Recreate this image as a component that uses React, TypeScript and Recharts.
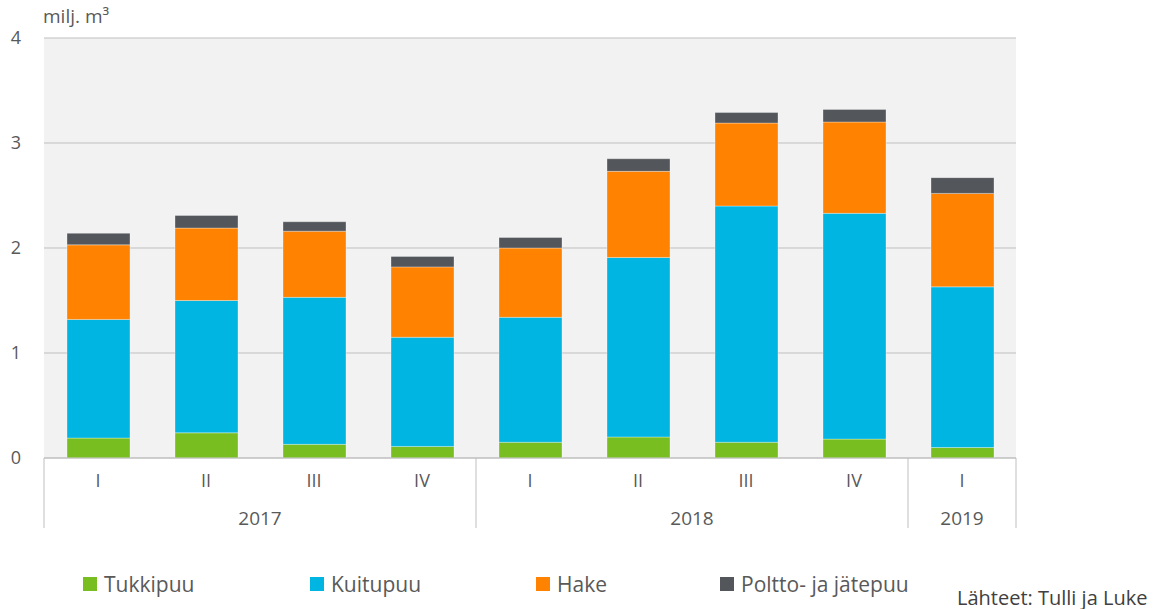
import { BarChart, Bar, XAxis, YAxis, CartesianGrid } from "recharts";

const quarters = ["I", "II", "III", "IV", "I", "II", "III", "IV", "I"];
const years = ["2017", "2017", "2017", "2017", "2018", "2018", "2018", "2018", "2019"];

const tukkipuu = [0.19, 0.24, 0.13, 0.11, 0.15, 0.2, 0.15, 0.18, 0.1];
const kuitupuu = [1.13, 1.26, 1.4, 1.04, 1.19, 1.71, 2.25, 2.15, 1.53];
const hake = [0.71, 0.69, 0.63, 0.67, 0.66, 0.82, 0.79, 0.87, 0.89];
const poltto = [0.11, 0.12, 0.09, 0.1, 0.1, 0.12, 0.1, 0.12, 0.15];

const yTicks = [0, 1, 2, 3, 4];

const series = [
	{ key: "tukkipuu", name: "Tukkipuu", color: "#78BE20" },
	{ key: "kuitupuu", name: "Kuitupuu", color: "#00B5E2" },
	{ key: "hake", name: "Hake", color: "#FF8200" },
	{ key: "poltto", name: "Poltto- ja jätepuu", color: "#53565A" },
];

const data = quarters.map((q, i) => ({
	id: `${years[i]}-${q}`,
	quarter: q,
	year: years[i],
	tukkipuu: tukkipuu[i],
	kuitupuu: kuitupuu[i],
	hake: hake[i],
	poltto: poltto[i],
}));

const FONT = "'Open Sans', sans-serif";
const TEXT = "#595959";
const LINE = "#bfbfbf";

const CategoryTick = (props: any) => {
	const { x, y, payload, width } = props;
	const i: number = payload?.index ?? props.index;
	const bw = (width ?? 972) / data.length;
	const row = data[i];
	const isFirst = i === 0 || data[i - 1].year !== row.year;
	const isLast = i === data.length - 1;
	let groupSize = 0;
	for (let j = i; j < data.length && data[j].year === row.year; j++) groupSize++;
	const left = x - bw / 2;
	return (
		<g>
			<text
				x={x}
				y={y + 29}
				textAnchor="middle"
				fill={TEXT}
				fontSize={18}
				fontFamily={FONT}
			>
				{row.quarter}
			</text>
			{isFirst && (
				<>
					<line x1={left} x2={left} y1={y} y2={y + 70} stroke={LINE} />
					<text
						x={left + (groupSize * bw) / 2}
						y={y + 67}
						textAnchor="middle"
						fill={TEXT}
						fontSize={19}
						fontFamily={FONT}
					>
						{row.year}
					</text>
				</>
			)}
			{isLast && (
				<line
					x1={x + bw / 2}
					x2={x + bw / 2}
					y1={y}
					y2={y + 70}
					stroke={LINE}
				/>
			)}
		</g>
	);
};

export default function App() {
	return (
		<div
			style={{
				position: "absolute",
				left: 0,
				top: 0,
				width: 1162,
				height: 609,
				fontFamily: FONT,
				background: "#fff",
			}}
		>
			<div
				style={{
					position: "absolute",
					left: 43,
					top: 3,
					fontSize: 19,
					color: TEXT,
				}}
			>
				milj. m³
			</div>
			<BarChart
				width={1162}
				height={609}
				data={data}
				margin={{ top: 38, right: 146, bottom: 79, left: 0 }}
				barSize={63}
			>
				<CartesianGrid
					vertical={false}
					fill="#f2f2f2"
					fillOpacity={1}
					stroke={LINE}
				/>
				<XAxis
					dataKey="id"
					axisLine={{ stroke: LINE }}
					tickLine={false}
					tickSize={0}
					tickMargin={0}
					height={72}
					interval={0}
					tick={<CategoryTick />}
				/>
				<YAxis
					domain={[0, 4]}
					ticks={yTicks}
					width={44}
					axisLine={false}
					tickLine={false}
					tickSize={0}
					tickMargin={23}
					tick={{ fill: TEXT, fontSize: 18, fontFamily: FONT }}
				/>
				{series.map((s) => (
					<Bar
						key={s.key}
						dataKey={s.key}
						name={s.name}
						stackId="a"
						fill={s.color}
						stroke="#ffffff"
						strokeOpacity={0.4}
						strokeWidth={0.8}
						isAnimationActive={false}
					/>
				))}
			</BarChart>
			<div
				style={{
					position: "absolute",
					left: 83,
					top: 570,
					display: "flex",
					alignItems: "center",
					fontSize: 21,
					color: TEXT,
				}}
			>
				{series.map((s, i) => (
					<div
						key={s.key}
						style={{
							display: "flex",
							alignItems: "center",
							width: [227, 226, 184, 240][i],
						}}
					>
						<div
							style={{
								width: 14,
								height: 14,
								background: s.color,
								marginRight: 7,
							}}
						/>
						<span>{s.name}</span>
					</div>
				))}
			</div>
			<div
				style={{
					position: "absolute",
					left: 957,
					top: 584,
					fontSize: 20,
					color: "#404040",
				}}
			>
				Lähteet: Tulli ja Luke
			</div>
		</div>
	);
}
